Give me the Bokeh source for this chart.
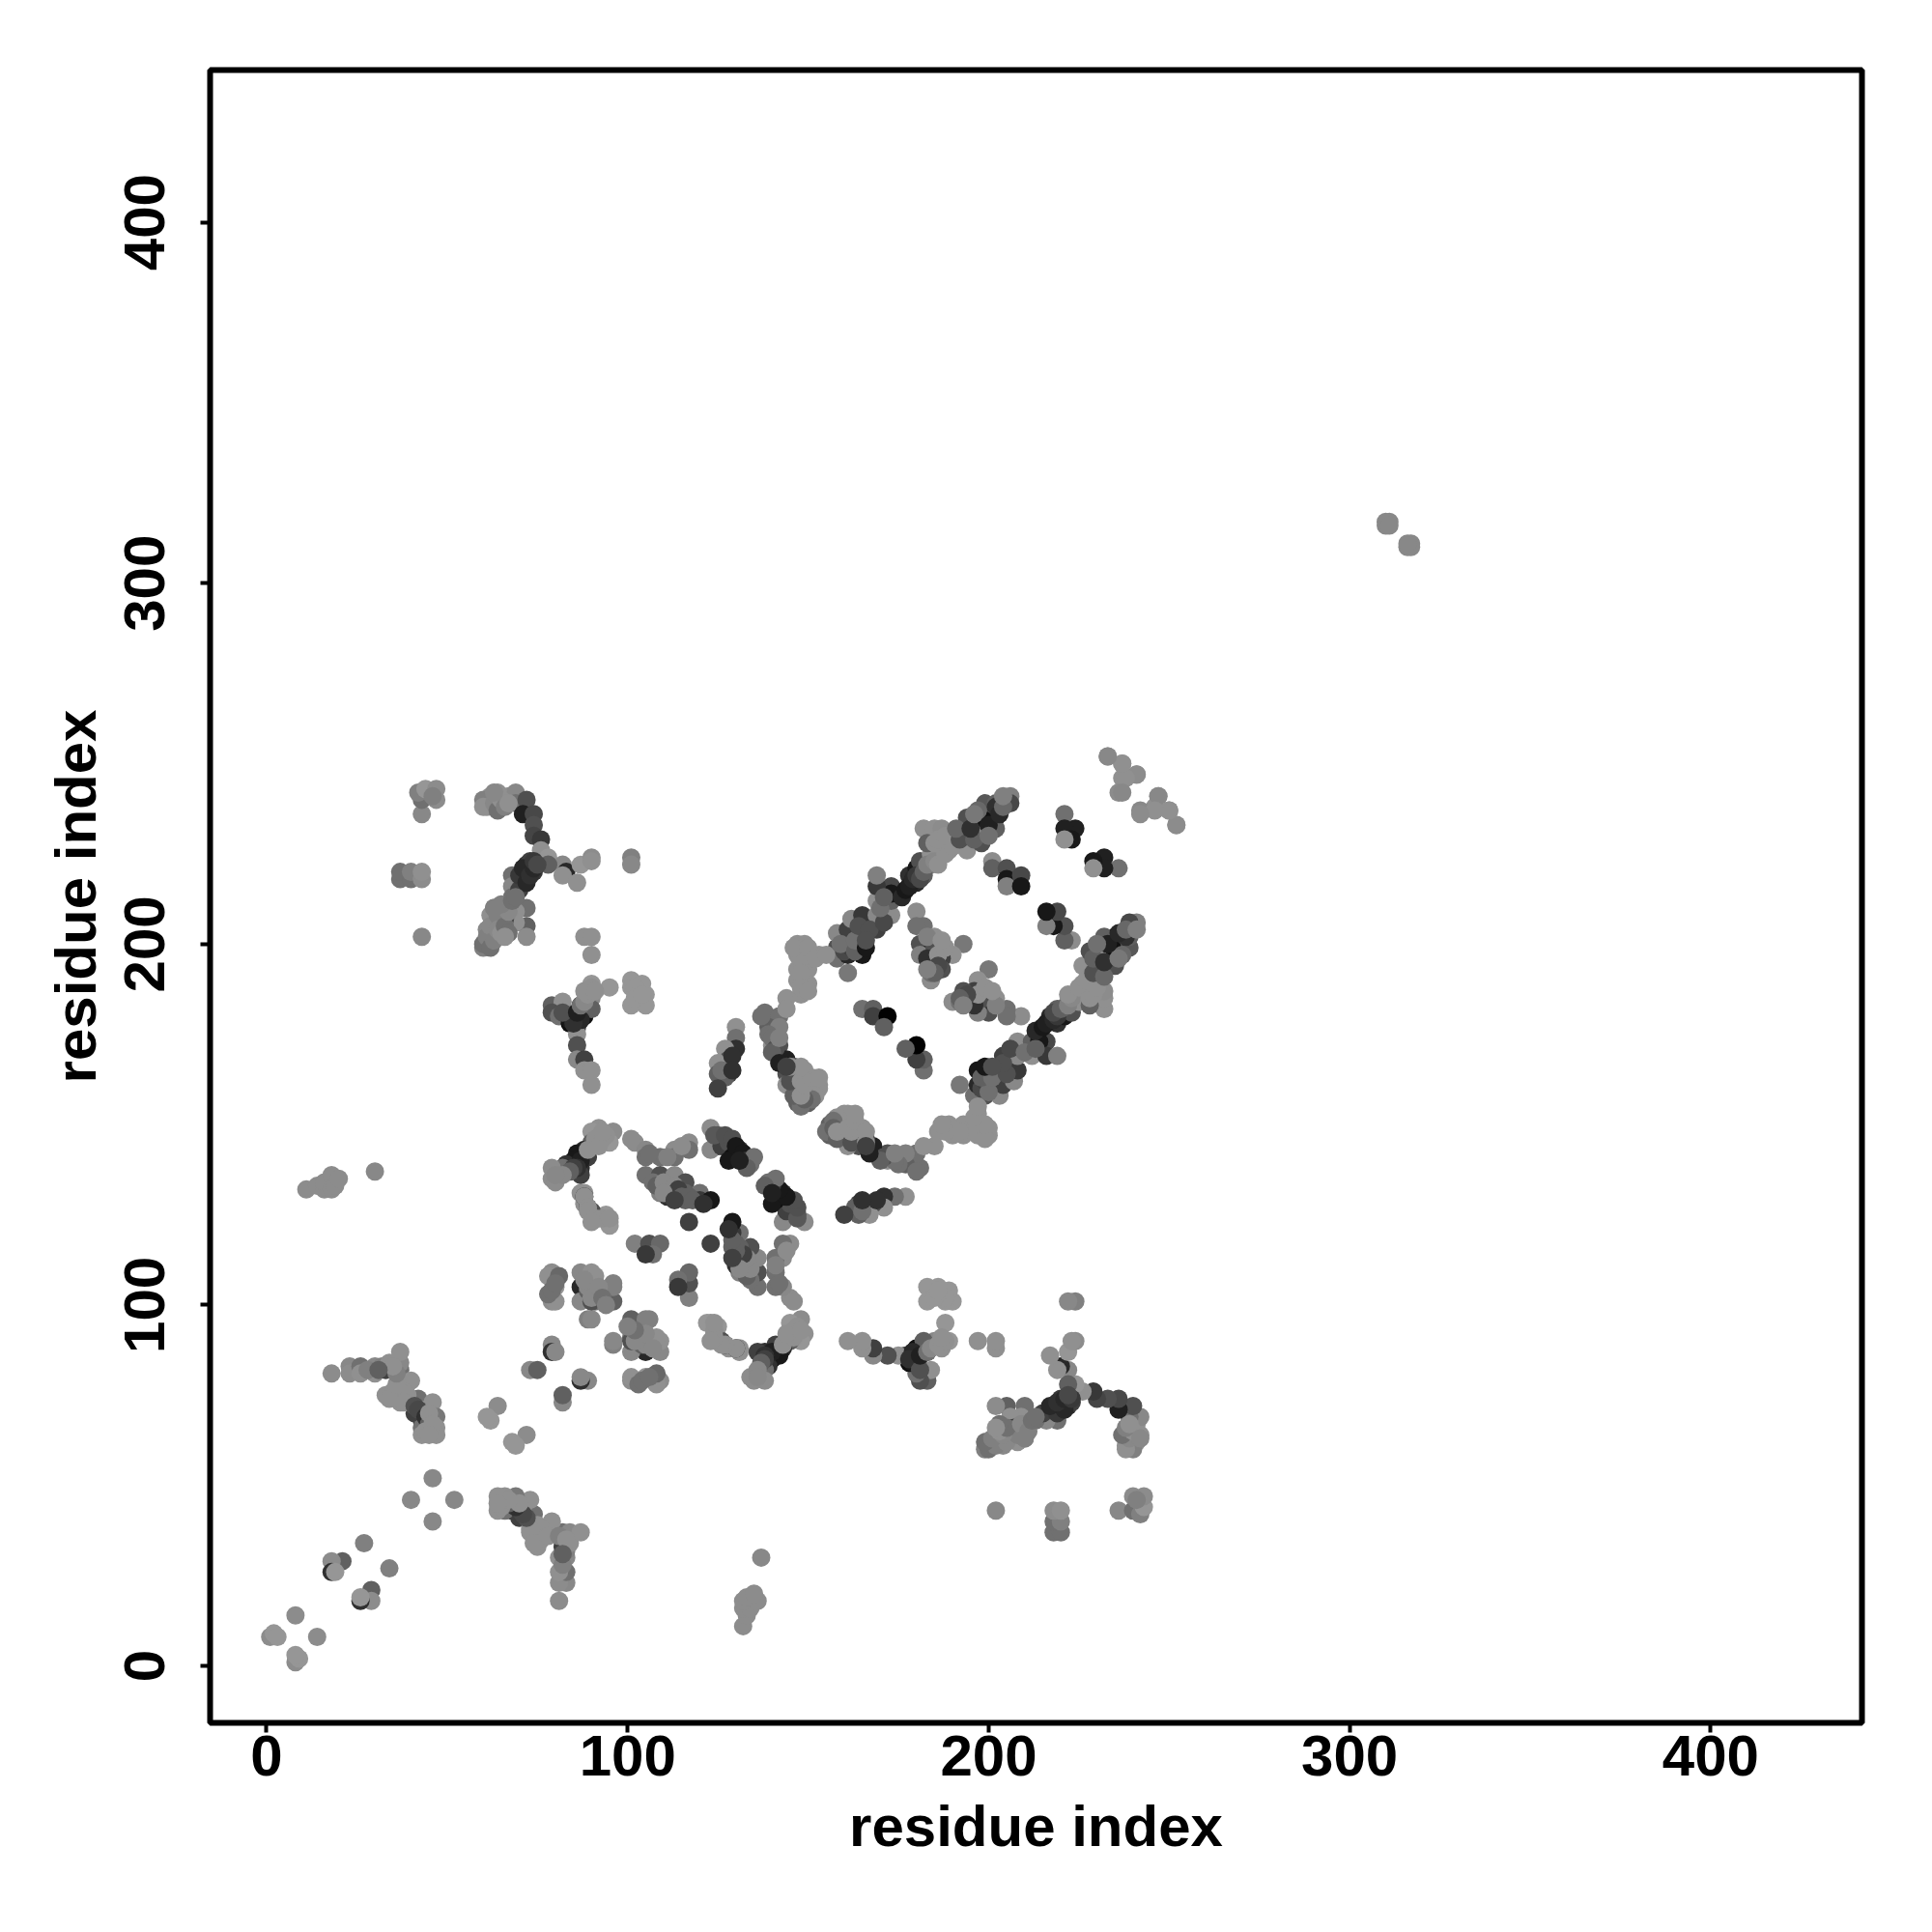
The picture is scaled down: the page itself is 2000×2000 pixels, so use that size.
from bokeh.plotting import figure
from bokeh.models import Range1d, FixedTicker
from bokeh.embed import file_html
from bokeh.resources import INLINE

# Symmetric contact map: each contact (a, b) with a < b is drawn at (a, b) and (b, a).
contact_a = [
 8,1,2,3, 27,21,18,18,19, 46,40, 64,62,61,
 73,75,79,79,80, 89,90,
 18,23,23,26,26,30,30,32,33,34,37,37,37,40,35,35,33,37,40,42,41,43,44,46,47,43,43,47,47,
 11,14,16,16,18,18,19,20,30,
 37,37,40,40,43,43,43,43,43,42,44,47,47,46,
 62,62,64,61,65,67,69,69,72,71,74,74,74,76,
 76,78,82,78,83,82,86,87,90,90,101,101,
 72,72,71,73,74,68,68,68,63,72,69,72,69,72,64,62,63,66,62,60,61,
 88,90,90,
 90,90,95,101,104,101,105,105,101,
 79,82,79,81,84,86,88,84,86,90,89,87,90,86,86,86,88,88,90,90,
 96,92,95,90,90,88,86,89,85,87,87,83,82,79,79,80,
 88,87,88,91,94,95,92,95,
 102,105,105,109,113,113,117,117,
 105,109,109,113,110,112,116,116,116,120,120,123,
 117,102,106,109,107,105,
 123,125,125,123,126,128,129,131,131,134,128,
 79,78,81,80,79,80,
 87,90,87,90,96,87,89,91,95,93,90,
 130,130,130,127,128,128,128,125,125,127,125,
 138,142,139,142,140,142,142,144,144,147,144,149,153,153,147,150,150,147,150,152,148,
 144,144,148,147,149,147,147,150,150,147,150,153,149,
 158,158,158,161,161,161,161,165,165,165,162,165,169,169,171,173,169,173,173,173,169,169,
 178,180,178,180,182,181,184,184,187,187,184,182,185,187,189,189,
 193,194,194,194,198,198,198,199,202,202,202,206,206,202,
 233,237,241,237,236,247,246,242,250,252,
 221,224,221,223,221,
 201,201,205,205,205,209,209,
 180,182,180,185,193,181,184,187,181,190,184,187,187,184,184,
 165,168,168,172,171,
 310,311,310,311,
 # denser fill along the strands
 85,84,87,85,82,86,87,88,89,88,90,91,
 102,103,102,104,
 87,86,85,84,82,80,88,89,90,89,91,93,94,92,93,
 88,89,89,91,93,95,90,
 89,90,94,96,96,89,91,88,92,93,94,
 78,79,80,
 107,108,110,111,113,114,115,117,118,121,110,113,
 124,127,129,130,132,133,135,133,131,
 129,126,129,
 146,145,146,151,149,145,148,148,149,151,153,148,
 148,148,148,150,146,150,152,155,
 160,162,159,163,163,164,167,166,166,171,170,171,
 176,177,178,179,180,181,182,183,185,183,186,188,185,187,186,190,188,
 192,191,196,195,197,200,200,203,204,204,196,
 185,183,186,183,188,186,185,183,187,
 60,61,62,62,63,64,64,65,66,67,67,66,63,65,68,
 70,70,71,72,73,74,74,75,69,
 60,60,63,64,65,66,67,63,
 38,39,38,41,42,44,45,45,44,46,45,34,36,36,35,28,31,
 101,106,111,115,
 137,139,140,141,140,142,144,142,
]
contact_b = [
 14,8,9,8, 34,29,29,26,26, 52,46, 72,68,69,
 82,82,89,87,87, 96,96,
 81,83,81,83,81,83,81,83,82,84,82,84,87,79,75,76,75,73,73,74,70,68,71,73,69,66,64,66,64,
 132,133,132,134,136,132,133,135,137,
 218,220,218,220,218,220,202,236,240,242,243,240,243,241,
 241,239,242,238,241,241,242,239,240,236,236,233,230,229,
 226,224,222,222,220,219,217,222,224,223,224,222,
 222,219,217,223,220,219,216,213,210,210,209,205,206,202,206,208,202,207,200,199,204,
 202,202,197,
 189,187,188,190,189,188,186,183,183,
 183,184,181,180,180,181,180,178,177,185,183,183,182,175,172,168,168,165,165,161,
 148,149,145,148,145,143,142,141,140,138,136,139,138,138,135,134,
 131,131,128,125,125,123,124,122,
 145,143,141,141,143,141,145,143,
 136,136,131,136,133,131,134,131,129,131,129,129,
 123,117,117,117,114,114,
 149,147,144,143,144,145,141,142,143,139,140,
 109,108,108,105,101,101,
 109,109,105,106,106,101,104,101,102,104,101,
 177,174,171,171,168,167,164,167,164,163,160,
 181,180,177,177,172,172,168,168,164,165,161,165,161,160,156,156,161,160,158,158,155,
 185,182,186,200,200,197,193,193,189,190,196,197,198,
 199,203,196,192,197,201,204,200,203,197,207,208,204,208,208,208,212,212,216,214,216,219,
 216,217,219,221,219,223,222,225,225,228,230,232,232,231,226,228,
 231,235,227,226,228,231,235,239,239,235,232,241,239,238,
 252,250,247,246,242,241,238,237,237,233,
 236,232,232,229,229,
 223,221,221,218,216,219,216,
 209,205,205,202,200,200,198,199,197,197,195,196,193,190,192,
 182,182,180,180,177,
 316,317,317,316,
 # denser fill along the strands
 180,179,179,178,181,181,183,184,186,187,188,187,
 188,186,185,186,
 140,138,138,137,136,136,130,127,126,143,146,146,147,144,148,
 130,127,126,124,124,124,123,
 105,102,104,101,105,107,108,107,105,102,100,
 103,104,106,
 134,133,134,130,133,132,130,130,129,128,131,129,
 147,147,146,144,142,140,141,138,140,
 169,165,165,
 158,162,166,157,157,166,158,162,161,163,163,166,
 196,192,188,187,199,199,196,197,
 198,199,200,198,201,205,204,199,201,206,210,213,
 213,215,216,218,219,218,220,222,223,228,222,225,228,232,229,227,230,
 229,232,229,232,237,233,230,236,238,241,236,
 199,196,197,202,199,194,192,193,201,
 200,202,199,205,201,208,204,203,205,209,203,202,210,211,212,
 215,219,221,217,219,221,223,222,213,
 240,238,239,237,240,238,239,242,
 76,75,73,72,71,69,67,70,65,67,64,74,78,81,83,82,82,
 146,142,141,144,
 180,175,174,171,170,167,166,174,
]
contact_shade = [
 0x8c,0x8c,0x96,0x96, 0x80,0x60,0x8c,0x30,0x96, 0x88,0x88, 0x8c,0x96,0x96,
 0x88,0x60,0x88,0x30,0x88, 0x80,0x88,
 0x8c,0x88,0x8c,0x70,0x90,0x88,0x90,0x80,0x40,0x90,0x70,0x88,0x90,0x90,0x90,0x90,0x90,0x90,0x60,0x70,0x40,0x40,0x90,0x90,0x78,0x70,0x90,0x90,0x90,
 0x8c,0x8c,0x8c,0x8c,0x8c,0x8c,0x8c,0x8c,0x88,
 0x70,0x70,0x70,0x80,0x8c,0x90,0x88,0x88,0x70,0x80,0x96,0x8c,0x8c,0x80,
 0x90,0x90,0x90,0x90,0x90,0x90,0x88,0x70,0x50,0x20,0x48,0x50,0x45,0x38,
 0x90,0x96,0x88,0x60,0x28,0x90,0x90,0x96,0x8c,0x90,0x80,0x88,
 0x30,0x28,0x38,0x40,0x38,0x70,0x88,0x70,0x80,0x70,0x90,0x60,0x90,0x8c,0x80,0x90,0x90,0x40,0x70,0x80,0x88,
 0x90,0x90,0x90,
 0x96,0x96,0x96,0x96,0x96,0x96,0x96,0x96,0x96,
 0x60,0x90,0x50,0x70,0x20,0x18,0x10,0x10,0x40,0x88,0x88,0x30,0x60,0x90,0x50,0x88,0x40,0x90,0x90,0x90,
 0x8c,0x90,0x96,0x96,0x60,0x28,0x18,0x40,0x18,0x30,0x40,0x30,0x70,0x8c,0x8c,0x8c,
 0x90,0x90,0x90,0x90,0x96,0x96,0x90,0x96,
 0x8c,0x88,0x70,0x70,0x8c,0x70,0x8c,0x70,
 0x70,0x50,0x80,0x88,0x38,0x30,0x50,0x60,0x60,0x70,0x38,0x18,
 0x40,0x80,0x50,0x68,0x70,0x38,
 0x8c,0x58,0x28,0x88,0x40,0x50,0x10,0x10,0x30,0x70,0x18,
 0x8c,0x90,0x68,0x96,0x8c,0x90,
 0x88,0x90,0x28,0x88,0x80,0x88,0x60,0x70,0x60,0x88,0x50,
 0x90,0x70,0x30,0x90,0x50,0x20,0x40,0x90,0x60,0x60,0x40,
 0x70,0x70,0x60,0x80,0x90,0x50,0x40,0x20,0x50,0x90,0x90,0x90,0x90,0x90,0x60,0x60,0x90,0x90,0x90,0x90,0x70,
 0x90,0x90,0x90,0x90,0x90,0x90,0x90,0x90,0x90,0x90,0x90,0x90,0x90,
 0x50,0x88,0x70,0x78,0x28,0x60,0x40,0x08,0x80,0x18,0x88,0x38,0x40,0x88,0x88,0x8c,0x90,0x60,0x48,0x18,0x38,0x80,
 0x20,0x28,0x30,0x18,0x60,0x50,0x88,0x90,0x96,0x96,0x88,0x90,0x90,0x90,0x90,0x90,
 0x28,0x50,0x50,0x90,0x50,0x88,0x10,0x58,0x60,0x10,0x60,0x80,0x48,0x30,
 0x8c,0x90,0x88,0x90,0x8c,0x8c,0x90,0x88,0x90,0x88,
 0x70,0x20,0x20,0x18,0x90,
 0x8c,0x60,0x50,0x18,0x80,0x48,0x18,
 0x8c,0x70,0x70,0x90,0x78,0x50,0x30,0x90,0x80,0x90,0x38,0x40,0x50,0x8c,0x70,
 0x70,0x60,0x40,0x02,0x60,
 0x88,0x88,0x88,0x88,
 # denser fill along the strands
 0x18,0x18,0x28,0x30,0x50,0x20,0x70,0x88,0x90,0x90,0x90,0x90,
 0x96,0x96,0x96,0x96,
 0x20,0x30,0x40,0x60,0x88,0x88,0x28,0x30,0x50,0x90,0x90,0x90,0x90,0x90,0x90,
 0x90,0x90,0x90,0x90,0x90,0x90,0x90,
 0x88,0x88,0x80,0x60,0x80,0x88,0x90,0x88,0x88,0x70,0x80,
 0x70,0x70,0x70,
 0x70,0x60,0x88,0x30,0x88,0x40,0x60,0x60,0x60,0x30,0x88,0x40,
 0x58,0x50,0x50,0x18,0x18,0x38,0x70,0x60,0x20,
 0x30,0x70,0x30,
 0x60,0x50,0x50,0x70,0x60,0x90,0x90,0x90,0x90,0x90,0x90,0x90,
 0x90,0x90,0x90,0x90,0x90,0x90,0x90,0x90,
 0x48,0x40,0x70,0x60,0x70,0x50,0x50,0x18,0x50,0x48,0x70,0x60,
 0x28,0x18,0x20,0x28,0x38,0x48,0x60,0x80,0x88,0x60,0x90,0x90,0x90,0x8c,0x90,0x90,0x90,
 0x50,0x68,0x60,0x30,0x68,0x20,0x70,0x28,0x68,0x80,0x78,
 0x50,0x30,0x90,0x80,0x90,0x48,0x60,0x80,0x90,
 0x70,0x80,0x70,0x88,0x80,0x80,0x88,0x90,0x70,0x88,0x70,0x90,0x80,0x80,0x70,
 0x40,0x38,0x28,0x28,0x30,0x28,0x38,0x48,0x70,
 0x80,0x90,0x88,0x70,0x90,0x80,0x90,0x88,
 0x90,0x90,0x90,0x50,0x48,0x30,0x60,0x90,0x90,0x90,0x90,0x90,0x90,0x80,0x90,0x80,0x60,
 0x8c,0x70,0x80,0x8c,
 0x70,0x70,0x70,0x50,0x60,0x20,0x40,0x80,
]
tick_values = [0, 100, 200, 300, 400]
axis_title = "residue index"

print(len(contact_a), len(contact_b), len(contact_shade))
xs = contact_a + contact_b
ys = contact_b + contact_a
colors = ["#%02x%02x%02x" % (g, g, g) for g in contact_shade] * 2

p = figure(width=1968, height=1968, output_backend="svg", toolbar_location=None,
           x_range=Range1d(-15.65, 441.9), y_range=Range1d(-15.8, 442.2),
           min_border_left=217, min_border_right=41, min_border_top=72, min_border_bottom=185)
p.scatter(xs, ys, size=19, fill_color=colors, line_color=None)

p.grid.visible = False
p.outline_line_color = "black"
p.outline_line_width = 6
p.background_fill_color = "white"
for ax in (p.xaxis[0], p.yaxis[0]):
    ax.ticker = FixedTicker(ticks=tick_values)
    ax.axis_label = axis_title
    ax.axis_line_color = None
    ax.minor_tick_line_color = None
    ax.major_tick_in = 0
    ax.major_tick_out = 10
    ax.major_tick_line_width = 4
    ax.major_tick_line_color = "black"
    ax.major_label_text_font = "Liberation Sans"
    ax.major_label_text_font_style = "bold"
    ax.major_label_text_font_size = "60px"
    ax.major_label_text_color = "black"
    ax.axis_label_text_font = "Liberation Sans"
    ax.axis_label_text_font_style = "bold"
    ax.axis_label_text_font_size = "60px"
    ax.axis_label_text_color = "black"
p.yaxis[0].major_label_orientation = "vertical"
p.xaxis[0].major_label_standoff = 3
p.yaxis[0].major_label_standoff = 37
p.xaxis[0].axis_label_standoff = 16
p.yaxis[0].axis_label_standoff = 15

open("out.html", "w").write(file_html(p, INLINE))
